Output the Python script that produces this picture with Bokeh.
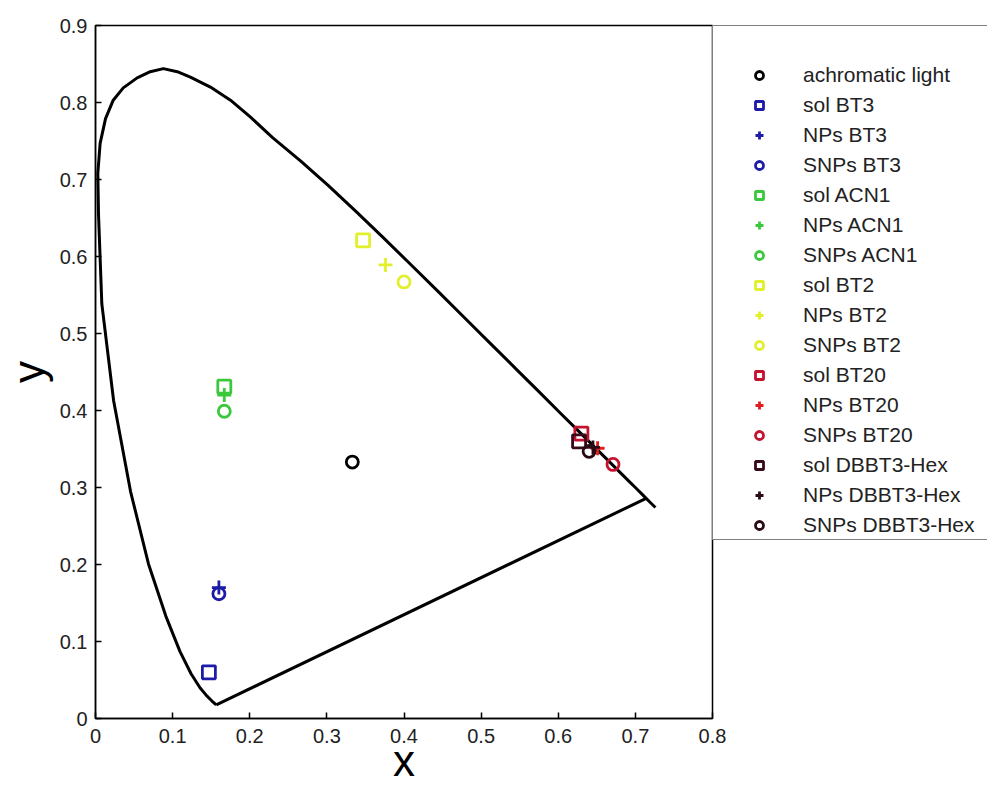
from bokeh.plotting import figure
from bokeh.models import Range1d, Legend, LegendItem, FixedTicker
from bokeh.embed import file_html
from bokeh.resources import INLINE

# Spectral locus (CIE 1931 values, top arc)
locus_x = [0.1566, 0.1510, 0.1440, 0.1355, 0.1241, 0.1096, 0.0913, 0.0687, 0.0454,
           0.0235, 0.0082, 0.0039, 0.0030, 0.0060, 0.0130, 0.0230, 0.0360, 0.0540,
           0.0710, 0.0880, 0.1060, 0.1230, 0.1490, 0.1750, 0.2010,
           0.2296, 0.2658, 0.3016, 0.3373, 0.3731, 0.4087, 0.4441, 0.4788, 0.5125,
           0.5448, 0.5752, 0.6029, 0.6270, 0.6482, 0.6658, 0.6801, 0.6915, 0.7006,
           0.7079, 0.7140, 0.7190, 0.7230, 0.7260]
locus_y = [0.0177, 0.0227, 0.0297, 0.0399, 0.0578, 0.0868, 0.1327, 0.2007, 0.2950,
           0.4127, 0.5384, 0.6548, 0.7080, 0.7470, 0.7790, 0.8030, 0.8190, 0.8320,
           0.8400, 0.8440, 0.8400, 0.8330, 0.8200, 0.8030, 0.7810,
           0.7543, 0.7243, 0.6923, 0.6589, 0.6245, 0.5896, 0.5547, 0.5202, 0.4866,
           0.4544, 0.4242, 0.3965, 0.3725, 0.3514, 0.3340, 0.3197, 0.3083, 0.2993,
           0.2920, 0.2859, 0.2809, 0.2770, 0.2740]
purple_x = [0.1566, 0.7140]
purple_y = [0.0177, 0.2859]

series_labels = ["achromatic light", "sol BT3", "NPs BT3", "SNPs BT3",
                 "sol ACN1", "NPs ACN1", "SNPs ACN1",
                 "sol BT2", "NPs BT2", "SNPs BT2",
                 "sol BT20", "NPs BT20", "SNPs BT20",
                 "sol DBBT3-Hex", "NPs DBBT3-Hex", "SNPs DBBT3-Hex"]
series_x = [0.333, 0.147, 0.160, 0.160,
            0.167, 0.167, 0.167,
            0.347, 0.376, 0.400,
            0.630, 0.651, 0.671,
            0.627, 0.645, 0.640]
series_y = [0.333, 0.060, 0.170, 0.162,
            0.431, 0.420, 0.399,
            0.621, 0.589, 0.567,
            0.370, 0.351, 0.330,
            0.360, 0.352, 0.347]
series_markers = ["circle", "square", "cross", "circle",
                  "square", "cross", "circle",
                  "square", "cross", "circle",
                  "square", "cross", "circle",
                  "square", "cross", "circle"]
series_colors = ["#000000", "#1c1ca8", "#1c1ca8", "#1c1ca8",
                 "#3cc83c", "#3cc83c", "#3cc83c",
                 "#e2f02c", "#e2f02c", "#e2f02c",
                 "#c41230", "#e01c1c", "#c41230",
                 "#3a0a1a", "#2a0a14", "#2a0a14"]

x_ticks = [0, 0.1, 0.2, 0.3, 0.4, 0.5, 0.6, 0.7, 0.8]
y_ticks = [0, 0.1, 0.2, 0.3, 0.4, 0.5, 0.6, 0.7, 0.8, 0.9]

FONT = "Liberation Sans"

p = figure(frame_width=617, frame_height=693, x_range=Range1d(0, 0.8), y_range=Range1d(0, 0.9),
           output_backend="svg", toolbar_location=None,
           min_border_left=95, min_border_right=275, min_border_top=25, min_border_bottom=74)
p.grid.visible = False
p.outline_line_color = "black"
p.outline_line_width = 1.5
p.background_fill_color = "white"
p.border_fill_color = "white"

p.line(locus_x, locus_y, line_color="black", line_width=3, line_join="round")
p.line(purple_x, purple_y, line_color="black", line_width=3)

sizes = {"circle": 12, "square": 13, "cross": 14}
items = []
for lab, xv, yv, m, c in zip(series_labels, series_x, series_y, series_markers, series_colors):
    r = p.scatter([xv], [yv], marker=m, size=sizes[m], fill_color=None,
                  line_color=c, line_width=2.8)
    items.append(LegendItem(label=lab, renderers=[r]))

for ax in (p.xaxis[0], p.yaxis[0]):
    ax.major_tick_in = 6
    ax.major_tick_out = 0
    ax.minor_tick_line_color = None
    ax.axis_line_width = 1.5
    ax.major_tick_line_width = 1.5
    ax.major_label_text_font = FONT
    ax.major_label_text_font_size = "20px"
    ax.major_label_text_color = "#222222"
    ax.major_label_overrides = {0: "0"}
    ax.axis_label_text_font = FONT
    ax.axis_label_text_font_size = "44px"
    ax.axis_label_text_font_style = "normal"
    ax.axis_label_text_color = "black"

p.xaxis.ticker = FixedTicker(ticks=x_ticks)
p.yaxis.ticker = FixedTicker(ticks=y_ticks)
p.xaxis.major_label_standoff = 10
p.yaxis.major_label_standoff = 8

p.yaxis.axis_label = "y"
p.yaxis.axis_label_standoff = 4
p.xaxis.axis_label = "x"
p.xaxis.axis_label_standoff = -10

legend = Legend(items=items, location="top_left", margin=0, padding=2,
                border_line_color="black", border_line_width=1.5,
                background_fill_color="white", background_fill_alpha=1.0,
                glyph_width=88, glyph_height=20, label_height=20, label_standoff=0,
                label_width=183, spacing=6, label_text_font=FONT, label_text_font_size="21px",
                label_text_color="#222222", label_text_baseline="middle",
                title=" ", title_text_font_size="14px", title_standoff=19)
p.add_layout(legend, "right")

open("out.html", "w").write(file_html(p, INLINE))
